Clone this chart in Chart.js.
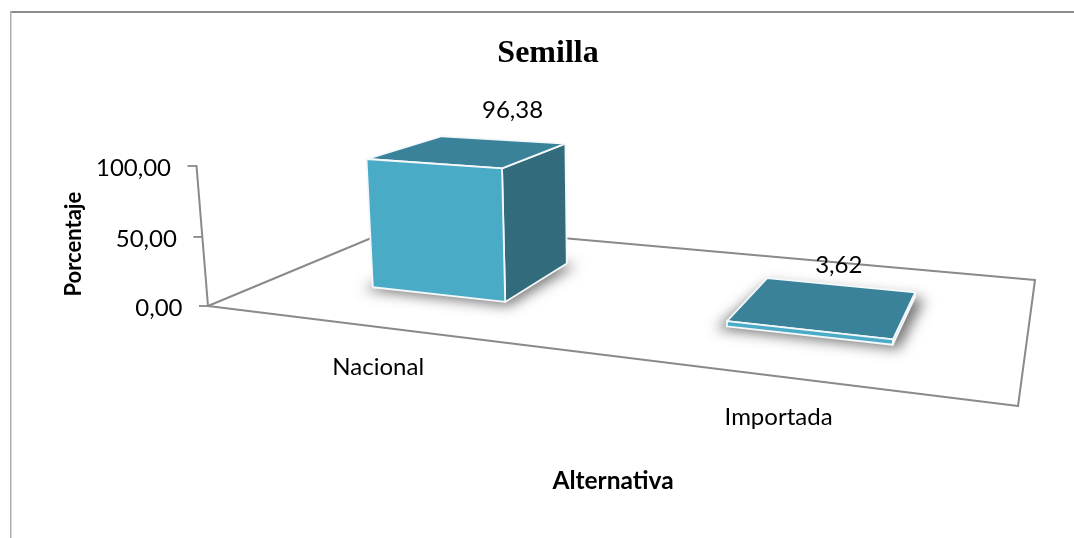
<!DOCTYPE html>
<html><head><meta charset="utf-8">
<style>html,body{margin:0;padding:0;background:#fff}canvas{display:block}</style>
<script src="https://cdn.jsdelivr.net/npm/chart.js@4"></script>
</head><body><canvas id="c" width="1074" height="538"></canvas>
<script>
const categories = ['Nacional', 'Importada'];
const percentValues = [96.38, 3.62];
const yTickLabels = ['0,00', '50,00', '100,00'];
const dataLabelOffsets = [[43, -41], [14, -41]];

// view of the 3D scene: floor quad, vertical vanishing point and bar depth
const floorQuad = {a: [208, 306], b: [1018, 406], c: [1035, 280], d: [405, 224]};
const verticalVanish = [626, 5400];
const barDepth = [0.30, 0.715];
const barShiftU = 0.004;
const LINE = '#8a8a8a', FRONT = '#4aabc7', TOP = '#39829a', SIDE = '#316b7c';
const LABEL_FONT = {family: 'Lato', size: 24};
const Y_TITLE_FONT = {family: 'Lato', size: 22, weight: 'bold'};
const X_TITLE_FONT = {family: 'Lato', size: 24.5, weight: 'bold'};

const H = (() => {
  const {a, b, c, d} = floorQuad;
  const sx = a[0]-b[0]+c[0]-d[0], sy = a[1]-b[1]+c[1]-d[1];
  const dx1 = b[0]-c[0], dx2 = d[0]-c[0], dy1 = b[1]-c[1], dy2 = d[1]-c[1];
  const det = dx1*dy2-dx2*dy1;
  const g = (sx*dy2-dx2*sy)/det, h = (dx1*sy-sx*dy1)/det;
  const k = -140/(verticalVanish[1]-a[1]);
  return {A:b[0]-a[0]+g*b[0], B:d[0]-a[0]+h*d[0], C:a[0], D:b[1]-a[1]+g*b[1], E:d[1]-a[1]+h*d[1], F:a[1], g, h, hk:k/(1-k)};
})();
function project(u, v, z) {
  const w = H.g*u + H.h*v + 1;
  const fx = H.A*u + H.B*v + H.C, fy = H.D*u + H.E*v + H.F;
  const q = z*H.hk;
  const den = w + q;
  return [(fx + q*verticalVanish[0])/den, (fy + q*verticalVanish[1])/den];
}
function poly(ctx, pts) {
  ctx.beginPath();
  pts.forEach((p, i) => i ? ctx.lineTo(p[0], p[1]) : ctx.moveTo(p[0], p[1]));
  ctx.closePath();
}
function line(ctx, p, q, color, width) {
  ctx.strokeStyle = color; ctx.lineWidth = width;
  ctx.beginPath(); ctx.moveTo(p[0], p[1]); ctx.lineTo(q[0], q[1]); ctx.stroke();
}
function uOf(chart, px) { const a = chart.chartArea; return (px - a.left)/(a.right - a.left); }
function zOf(chart, val) { const y = chart.scales.y; return (y.getPixelForValue(0) - y.getPixelForValue(val))/(y.getPixelForValue(0) - y.getPixelForValue(y.max)); }

const scene3d = {
  id: 'scene3d',
  afterLayout(chart) {
    chart.titleBlock.left += 6;
  },
  beforeDraw(chart) {
    const ctx = chart.ctx;
    ctx.save();
    ctx.fillStyle = '#fff'; ctx.fillRect(0, 0, chart.width, chart.height);
    ctx.fillStyle = '#8c8c8c'; ctx.fillRect(10, 11, chart.width - 10, 2);
    ctx.fillStyle = '#aeaeae'; ctx.fillRect(10, 11, 1.5, chart.height - 11);
    ctx.restore();
    const y = chart.scales.y, x = chart.scales.x;
    y.getLabelItems().forEach((item, i) => {
      const z = zOf(chart, y.ticks[i].value);
      const p = project(0, 0, z);
      item.options.translation[0] = p[0] - 25.5;
      item.options.translation[1] = p[1] + 2 - item.textOffset;
    });
    x.getLabelItems().forEach((item, i) => {
      const p = project(uOf(chart, x.getPixelForTick(i)), 0, 0);
      item.options.translation[0] = p[0] + 3;
      item.options.translation[1] = p[1] + 41 - item.textOffset;
    });
    if (!y._shifted) {
      y._shifted = true;
      const orig = y.drawTitle.bind(y);
      y.drawTitle = function () {
        chart.ctx.save(); chart.ctx.translate(0, 6.5); orig(); chart.ctx.restore();
      };
    }
  },
  beforeDatasetsDraw(chart) {
    const ctx = chart.ctx, y = chart.scales.y;
    ctx.save();
    ctx.lineCap = 'round';
    const a = project(0,0,0);
    [[a, project(1,0,0)], [project(1,0,0), project(1,1,0)], [project(1,1,0), project(0,1,0)], [project(0,1,0), a]]
      .forEach(s => line(ctx, s[0], s[1], LINE, 2));
    line(ctx, a, project(0,0,1), LINE, 2);
    ctx.lineCap = 'butt';
    y.ticks.forEach(t => {
      const p = project(0,0,zOf(chart, t.value));
      line(ctx, [p[0]-9, p[1]], [p[0]+0.5, p[1]], LINE, 1.8);
    });
    ctx.restore();
  },
  beforeDatasetDraw(chart, args) {
    const ctx = chart.ctx;
    const [v0, v1] = barDepth;
    args.meta.data.forEach((el) => {
      const u0 = uOf(chart, el.x - el.width/2) + barShiftU, u1 = uOf(chart, el.x + el.width/2) + barShiftU;
      const z = (el.base - el.y)/(chart.chartArea.bottom - chart.chartArea.top);
      const P = (u, v, h) => project(u, v, h);
      ctx.save();
      // soft floor shadow: the shape itself stays off-canvas, only its blur lands here
      ctx.save();
      ctx.shadowColor = 'rgba(60,60,60,0.7)'; ctx.shadowBlur = 13; ctx.shadowOffsetX = 3000; ctx.shadowOffsetY = 2;
      ctx.fillStyle = '#000';
      ctx.translate(-3000, 0);
      poly(ctx, [P(u0-0.012,v0-0.012,0), P(u1+0.008,v0-0.012,0), P(u1+0.012,v1+0.01,0), P(u0,v1+0.01,0)]);
      ctx.fill();
      ctx.restore();
      ctx.lineJoin = 'round';
      ctx.strokeStyle = '#f4f8fa'; ctx.lineWidth = 1.8;
      const faces = [
        [[P(u1,v0,0), P(u1,v1,0), P(u1,v1,z), P(u1,v0,z)], SIDE],
        [[P(u0,v0,z), P(u1,v0,z), P(u1,v1,z), P(u0,v1,z)], TOP],
        [[P(u0,v0,0), P(u1,v0,0), P(u1,v0,z), P(u0,v0,z)], FRONT]
      ];
      faces.forEach(f => { poly(ctx, f[0]); ctx.fillStyle = f[1]; ctx.fill(); ctx.stroke(); });
      ctx.restore();
    });
    return false;
  },
  afterDatasetsDraw(chart) {
    const ctx = chart.ctx, meta = chart.getDatasetMeta(0), [v0, v1] = barDepth;
    ctx.save();
    ctx.fillStyle = '#000';
    ctx.font = LABEL_FONT.size + 'px ' + LABEL_FONT.family;
    ctx.textAlign = 'center'; ctx.textBaseline = 'middle';
    meta.data.forEach((el, i) => {
      const z = (el.base - el.y)/(chart.chartArea.bottom - chart.chartArea.top);
      const p = project(uOf(chart, el.x) + barShiftU, (v0+v1)/2, z);
      ctx.fillText(percentValues[i].toFixed(2).replace('.', ','), p[0] + dataLabelOffsets[i][0], p[1] + dataLabelOffsets[i][1]);
    });
    ctx.restore();
  }
};

new Chart(document.getElementById('c'), {
  type: 'bar',
  data: {labels: categories, datasets: [{label: 'Porcentaje', data: percentValues, backgroundColor: FRONT, barPercentage: 0.4, categoryPercentage: 1}]},
  plugins: [scene3d],
  options: {
    responsive: false, animation: false,
    layout: {padding: {left: 61, right: 45, top: 0, bottom: 42.5}},
    plugins: {
      legend: {display: false}, tooltip: {enabled: false},
      title: {display: true, text: 'Semilla', color: '#000',
        font: {family: 'Liberation Serif', size: 32, weight: 'bold'},
        padding: {top: 35, bottom: 96}}
    },
    scales: {
      x: {
        grid: {display: false, drawTicks: false}, border: {display: false},
        ticks: {color: '#000', font: LABEL_FONT, maxRotation: 0, autoSkip: false},
        title: {display: true, text: 'Alternativa', color: '#000', font: X_TITLE_FONT, padding: 0},
        afterFit(s) { s.height = 189.5; }
      },
      y: {
        min: 0, max: 100,
        grid: {display: false, drawTicks: false}, border: {display: false},
        afterBuildTicks(s) { s.ticks = [{value: 0}, {value: 50}, {value: 100}]; },
        ticks: {color: '#000', font: LABEL_FONT, callback: (v) => yTickLabels[[0, 50, 100].indexOf(v)]},
        title: {display: true, text: 'Porcentaje', color: '#000', font: Y_TITLE_FONT, padding: 0},
        afterFit(s) { s.width = 136; }
      }
    }
  }
});
</script></body></html>
